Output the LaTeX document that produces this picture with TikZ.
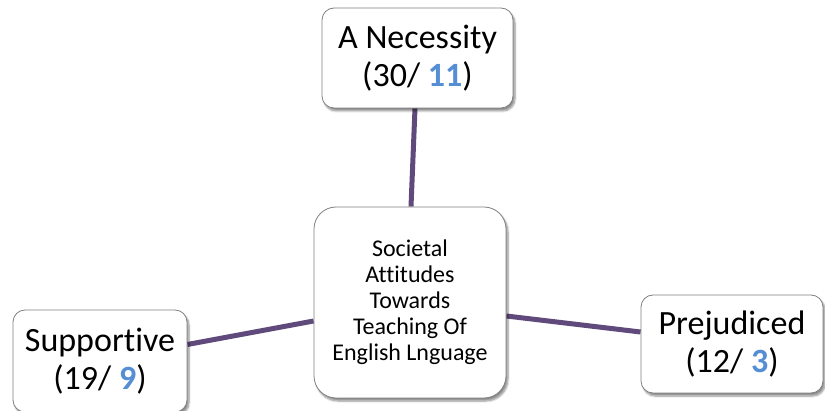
\documentclass[tikz,border=0pt]{standalone}
\usepackage{fontspec}
\setmainfont{Carlito}[Ligatures=NoCommon]
\usetikzlibrary{shadows.blur,backgrounds}
\definecolor{linkpurple}{RGB}{96,74,123}
\definecolor{countblue}{RGB}{85,142,213}
\definecolor{boxedge}{RGB}{128,128,128}
\newcommand{\cnt}[1]{\textbf{\textcolor{countblue}{#1}}}
\tikzset{
  attbox/.style={draw=boxedge, line width=0.8pt, fill=white, rounded corners=12pt,
    align=center, inner sep=0pt,
    blur shadow={shadow xshift=2pt, shadow yshift=-3pt, shadow blur steps=6, shadow opacity=45},
    font=\fontsize{34}{38}\selectfont},
  hubbox/.style={attbox, rounded corners=22pt, font=\fontsize{24}{26}\selectfont},
  link/.style={draw=linkpurple, line width=5pt}
}
\begin{document}
\begin{tikzpicture}[x=1pt,y=-1pt]
  \useasboundingbox (0,0) rectangle (825,411);

  \node[attbox, minimum width=191pt, minimum height=100pt] (need) at (417.5,58)
    {A Necessity\\(30/ \cnt{11})};
  \node[hubbox, minimum width=192pt, minimum height=191pt] (hub) at (410,302.5)
    {Societal\\Attitudes\\Towards\\Teaching Of\\English Lnguage};
  \node[attbox, minimum width=174pt, minimum height=102pt] (supp) at (100,361)
    {Supportive\\(19/ \cnt{9})};
  \node[attbox, minimum width=182pt, minimum height=98pt] (prej) at (732,344)
    {Prejudiced\\(12/ \cnt{3})};

  \begin{scope}[on background layer]
    \draw[link] ([xshift=-2.5pt]need.south) -- ([xshift=1pt]hub.north);
    \draw[link] ([yshift=16.5pt]supp.east) -- ([yshift=-18.5pt]hub.west);
    \draw[link] ([yshift=-13.5pt]hub.east) -- ([yshift=12pt]prej.west);
  \end{scope}
\end{tikzpicture}
\end{document}
